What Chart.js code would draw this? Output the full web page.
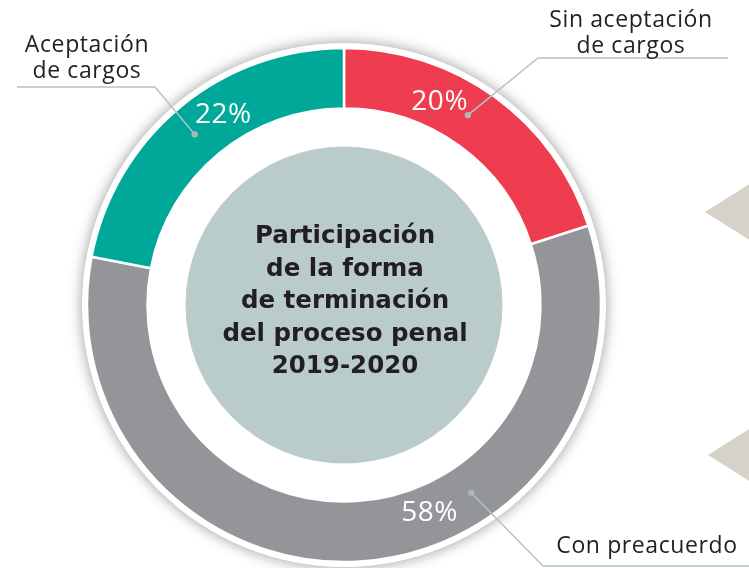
<!DOCTYPE html>
<html>
<head>
<meta charset="utf-8">
<script src="https://cdn.jsdelivr.net/npm/chart.js@4"></script>
<style>
  html, body { margin: 0; padding: 0; background: #fff; }
  #wrap { position: relative; width: 749px; height: 568px; overflow: hidden; }
  .tri { position: absolute; width: 46px; height: 58px; background: #d6d2c9;
         clip-path: polygon(0 50%, 100% 0, 100% 100%); }
</style>
</head>
<body>
<div id="wrap">
  <div class="tri" style="left:705px; top:183px;"></div>
  <div class="tri" style="left:708px; top:426px;"></div>
  <canvas id="myChart" width="749" height="568"></canvas>
</div>
<script>
// datos
const categories = ['Sin aceptación de cargos', 'Con preacuerdo', 'Aceptación de cargos'];
const values = [20, 58, 22];
const colors = ['#ee3d4f', '#939598', '#00a899'];
const centerTitle = ['Participación', 'de la forma', 'de terminación', 'del proceso penal', '2019-2020'];

// where the % text and the leader dot sit along each arc (0..1 of its sweep)
const pctAt = [0.35, 0.41, 0.59];
const dotAt = [0.46, 0.354, 0.48];
// label text lines, their anchor and the elbow/end of the leader line
const callouts = [
    { lines: ['Sin aceptación', 'de cargos'], x: 631, y: [27, 53], elbow: [538, 58], end: [728, 58] },
    { lines: ['Con preacuerdo'], x: 647, y: [553], elbow: [543, 566], end: [749, 566] },
    { lines: ['Aceptación', 'de cargos'], x: 87, y: [52, 78], elbow: [155, 87], end: [17, 87] }
];

const TEXT = '#231f20';
const LEADER = '#b2c4c4';

const decor = {
    id: 'decor',
    beforeDatasetsDraw(chart) {
        const arc = chart.getDatasetMeta(0).data[0];
        const ctx = chart.ctx;
        ctx.save();
        ctx.shadowColor = 'rgba(0,0,0,0.4)';
        ctx.shadowBlur = 14;
        ctx.fillStyle = '#fff';
        ctx.beginPath();
        ctx.arc(arc.x, arc.y, arc.outerRadius + 5, 0, Math.PI * 2);
        ctx.fill();
        ctx.restore();
    },
    afterDatasetsDraw(chart) {
        const meta = chart.getDatasetMeta(0);
        const ctx = chart.ctx;
        const a0 = meta.data[0];
        const cx = a0.x, cy = a0.y;

        // inner disc + title
        ctx.save();
        ctx.fillStyle = '#b9cbcb';
        ctx.beginPath();
        ctx.arc(cx, cy, a0.innerRadius - 38, 0, Math.PI * 2);
        ctx.fill();
        ctx.fillStyle = TEXT;
        ctx.font = 'bold 24.5px "DejaVu Sans"';
        ctx.textAlign = 'center';
        ctx.textBaseline = 'middle';
        centerTitle.forEach((t, i) => ctx.fillText(t, cx + 1, cy - 68 + i * 32.5));
        ctx.restore();

        meta.data.forEach((arc, i) => {
            const mid = (arc.innerRadius + arc.outerRadius) / 2;
            const ang = f => arc.startAngle + (arc.endAngle - arc.startAngle) * f;

            // percentage
            const pa = ang(pctAt[i]);
            ctx.save();
            ctx.fillStyle = '#fff';
            ctx.font = '28px "Open Sans"';
            ctx.letterSpacing = '0.5px';
            ctx.textAlign = 'center';
            ctx.textBaseline = 'middle';
            ctx.fillText(values[i] + '%', cx + Math.cos(pa) * (mid - 2), cy + Math.sin(pa) * (mid - 2));
            ctx.restore();

            // leader line + dot
            const da = ang(dotAt[i]);
            const dx = cx + Math.cos(da) * mid, dy = cy + Math.sin(da) * mid;
            const c = callouts[i];
            ctx.save();
            ctx.strokeStyle = LEADER;
            ctx.lineWidth = 1.5;
            ctx.beginPath();
            ctx.moveTo(dx, dy);
            ctx.lineTo(c.elbow[0], c.elbow[1]);
            ctx.lineTo(c.end[0], c.end[1]);
            ctx.stroke();
            ctx.fillStyle = '#a9b8b8';
            ctx.beginPath();
            ctx.arc(dx, dy, 3.2, 0, Math.PI * 2);
            ctx.fill();

            ctx.fillStyle = TEXT;
            ctx.font = '23px "Open Sans"';
            ctx.letterSpacing = '0.6px';
            ctx.textAlign = 'center';
            ctx.textBaseline = 'alphabetic';
            c.lines.forEach((t, j) => ctx.fillText(t, c.x, c.y[j]));
            ctx.restore();
        });
    }
};

const data = {
    labels: categories,
    datasets: [{
        data: values,
        backgroundColor: colors,
        borderColor: '#fff',
        borderWidth: 2.5,
        hoverOffset: 0
    }]
};

const config = {
    type: 'doughnut',
    data,
    options: {
        responsive: false,
        animation: false,
        radius: 257,
        cutout: 194,
        layout: { padding: { left: 20, right: 81, top: 50, bottom: 8 } },
        plugins: {
            legend: { display: false },
            tooltip: { enabled: false }
        }
    },
    plugins: [decor]
};

const myChart = new Chart(document.getElementById('myChart').getContext('2d'), config);
</script>
</body>
</html>
